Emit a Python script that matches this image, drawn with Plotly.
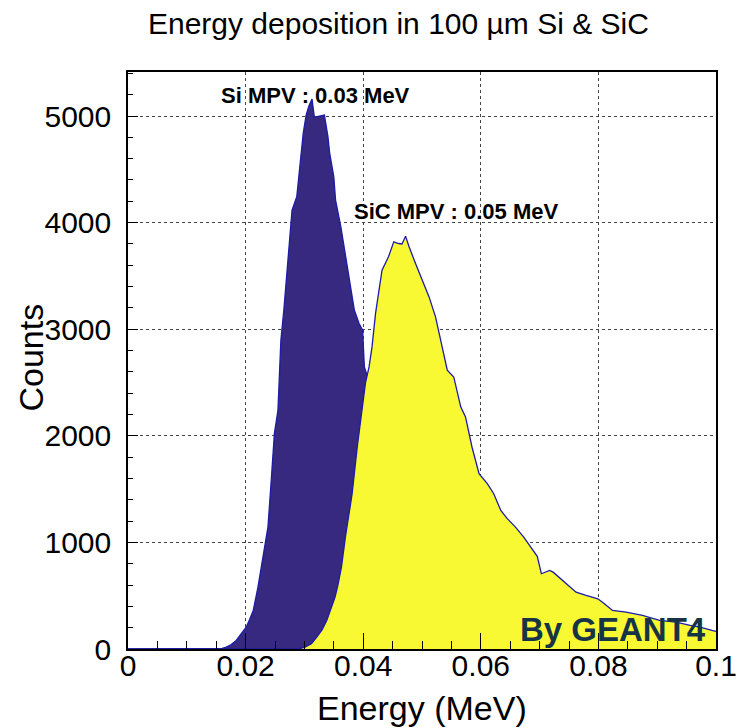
import plotly.graph_objects as go

# ---- data ----
si_energy = [0, 0.0150, 0.0160, 0.0167, 0.0175, 0.0184, 0.0192, 0.0201, 0.0207, 0.0213,
             0.0221, 0.0229, 0.0238, 0.0244, 0.0249, 0.0255, 0.0258, 0.0260, 0.0265, 0.0271,
             0.0275, 0.0279, 0.0287, 0.0292, 0.0298, 0.0303, 0.0308, 0.0313, 0.0317, 0.0320,
             0.0327, 0.0334, 0.0340, 0.0343, 0.0350, 0.0353, 0.0362, 0.0370, 0.0379, 0.0385,
             0.0393, 0.0399, 0.0402, 0.0407, 0.0415, 0.0430, 0.0450, 0.0480, 0.0520, 0.0600,
             0.0700, 0.0850, 0.1000]
si_counts = [0, 0, 5, 17, 40, 80, 140, 205, 280, 362,
             580, 831, 1144, 1613, 2023, 2239, 2709, 2897, 3178, 3554,
             3867, 4117, 4242, 4493, 4837, 5010, 5100, 5160, 4985, 4993,
             5000, 5009, 4806, 4652, 4430, 4211, 3960, 3679, 3366, 3178,
             3054, 2991, 2646, 2560, 2300, 1800, 1250, 700, 350, 150,
             70, 30, 15]

sic_energy = [0, 0.0290, 0.0301, 0.0312, 0.0321, 0.0330, 0.0338, 0.0345, 0.0352, 0.0357,
              0.0363, 0.0370, 0.0381, 0.0390, 0.0398, 0.0404, 0.0410, 0.0415, 0.0421, 0.0427,
              0.0432, 0.0443, 0.0452, 0.0460, 0.0466, 0.0472, 0.0478, 0.0489, 0.0500, 0.0512,
              0.0523, 0.0534, 0.0543, 0.0554, 0.0566, 0.0574, 0.0585, 0.0597, 0.0611, 0.0622,
              0.0634, 0.0645, 0.0659, 0.0673, 0.0688, 0.0696, 0.0703, 0.0717, 0.0723, 0.0740,
              0.0762, 0.0779, 0.0799, 0.0807, 0.0824, 0.0847, 0.0861, 0.0875, 0.0904, 0.0932,
              0.0956, 0.0973, 0.0993, 0.1000]
sic_counts = [0, 0, 17, 50, 111, 180, 268, 370, 486, 600,
              768, 1060, 1450, 1900, 2270, 2500, 2646, 2834, 3148, 3397,
              3554, 3679, 3820, 3804, 3800, 3873, 3773, 3617, 3460, 3303,
              3116, 2834, 2615, 2552, 2270, 2177, 1895, 1645, 1551, 1457,
              1300, 1223, 1144, 1050, 930, 870, 706, 737, 721, 643,
              533, 502, 471, 439, 362, 346, 330, 315, 268, 252,
              221, 205, 174, 165]

x_ticks = [0, 0.02, 0.04, 0.06, 0.08, 0.1]
x_tick_labels = ["0", "0.02", "0.04", "0.06", "0.08", "0.1"]
y_ticks = [0, 1000, 2000, 3000, 4000, 5000]
y_tick_labels = ["0", "1000", "2000", "3000", "4000", "5000"]

FONT = "Liberation Sans, Arial, sans-serif"
LINE = "#1c1ca8"

fig = go.Figure()
fig.add_trace(go.Scatter(x=si_energy, y=si_counts, mode="lines", fill="tozeroy",
                         fillcolor="#36297f", line=dict(color=LINE, width=1.3),
                         name="Si", showlegend=False))
fig.add_trace(go.Scatter(x=sic_energy, y=sic_counts, mode="lines", fill="tozeroy",
                         fillcolor="#f9f933", line=dict(color=LINE, width=1.3),
                         name="SiC", showlegend=False))

# the page body has an 8px margin, so the figure is sized/placed to compensate
fig.update_layout(
    width=738, height=720,
    margin=dict(l=120, r=30, t=64, b=79),
    paper_bgcolor="white", plot_bgcolor="white",
    font=dict(family=FONT, color="black"),
    title=dict(text="Energy deposition in 100 µm Si &amp; SiC", x=0.529, y=0.978,
               xanchor="center", yanchor="middle", font=dict(size=30, family=FONT)),
    xaxis=dict(range=[0, 0.1], tickvals=x_ticks, ticktext=x_tick_labels,
               ticks="inside", ticklen=16, tickcolor="black", tickwidth=1,
               minor=dict(dtick=0.005, ticks="inside", ticklen=8, tickcolor="black", showgrid=False),
               showgrid=True, gridcolor="#444444", griddash="dot", gridwidth=1,
               showline=True, linecolor="black", linewidth=1.5, mirror=True,
               zeroline=False, tickfont=dict(size=30), ticklabelstandoff=-11,
               automargin=False),
    yaxis=dict(range=[0, 5413], tickvals=y_ticks, ticktext=y_tick_labels,
               ticks="inside", ticklen=10, tickcolor="black", tickwidth=1,
               minor=dict(dtick=200, ticks="inside", ticklen=5, tickcolor="black", showgrid=False),
               showgrid=True, gridcolor="#444444", griddash="dot", gridwidth=1,
               showline=True, linecolor="black", linewidth=1.5, mirror=True,
               zeroline=False, tickfont=dict(size=30), ticklabelstandoff=9,
               automargin=False),
)

# axis titles
fig.add_annotation(xref="paper", yref="paper", x=0.5, y=0, yshift=-59,
                   text="Energy (MeV)", showarrow=False, xanchor="center", yanchor="middle",
                   font=dict(size=34, family=FONT))
fig.add_annotation(xref="paper", yref="paper", x=0, y=0.5, xshift=-98, yshift=3,
                   text="Counts", textangle=-90, showarrow=False, xanchor="center",
                   yanchor="middle", font=dict(size=34, family=FONT))

# text labels
fig.add_annotation(x=0.0319, y=5188, text="<b>Si MPV : 0.03 MeV</b>", showarrow=False,
                   xanchor="center", yanchor="middle", font=dict(size=22, family=FONT))
fig.add_annotation(x=0.0558, y=4108, text="<b>SiC MPV : 0.05 MeV</b>", showarrow=False,
                   xanchor="center", yanchor="middle", font=dict(size=22, family=FONT))
fig.add_annotation(x=0.0987, y=185, text="<b>By GEANT4</b>", showarrow=False,
                   xanchor="right", yanchor="middle", font=dict(size=33, family=FONT, color="#173447"))

fig.write_html("out.html")
